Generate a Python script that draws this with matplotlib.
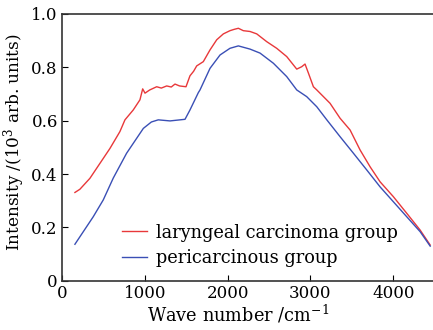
import matplotlib
matplotlib.use("Agg")
import matplotlib.pyplot as plt

red_x = [157, 217, 338, 459, 580, 700, 761, 861, 942, 975, 1003, 1060, 1144, 1200, 1265, 1320, 1365, 1420, 1498,
         1546, 1590, 1627, 1707, 1788, 1869, 1949, 2029, 2080, 2130, 2190, 2271, 2352, 2472, 2593, 2714, 2835,
         2895, 2935, 2976, 3036, 3077, 3157, 3237, 3358, 3479, 3600, 3721, 3841, 4002, 4163, 4325, 4446]
red_y = [0.331, 0.343, 0.384, 0.44, 0.496, 0.559, 0.603, 0.640, 0.678, 0.719, 0.703, 0.715, 0.727, 0.722, 0.730, 0.726, 0.737, 0.730, 0.727,
         0.768, 0.785, 0.805, 0.821, 0.865, 0.903, 0.925, 0.937, 0.942, 0.946, 0.937, 0.934, 0.925, 0.896, 0.871, 0.840, 0.793,
         0.802, 0.812, 0.778, 0.727, 0.715, 0.690, 0.665, 0.609, 0.565, 0.490, 0.427, 0.371, 0.315, 0.253, 0.190, 0.134]

blue_x = [157, 378, 499, 620, 781, 983, 1080, 1163, 1305, 1486, 1546, 1647, 1667, 1788, 1909, 2029, 2130, 2271, 2392,
          2553, 2714, 2835, 2955, 3077, 3198, 3358, 3519, 3681, 3841, 4002, 4163, 4325, 4446]
blue_y = [0.137, 0.240, 0.303, 0.385, 0.478, 0.571, 0.595, 0.603, 0.599, 0.605, 0.640, 0.705, 0.715, 0.796, 0.846, 0.871, 0.880, 0.868, 0.853,
          0.815, 0.765, 0.715, 0.690, 0.652, 0.603, 0.540, 0.478, 0.415, 0.352, 0.296, 0.240, 0.184, 0.130]

labels = ["laryngeal carcinoma group", "pericarcinous group"]
xticks = [0, 1000, 2000, 3000, 4000]
yticks = [0, 0.2, 0.4, 0.6, 0.8, 1.0]
ytick_labels = ["0", "0.2", "0.4", "0.6", "0.8", "1.0"]

plt.rcParams["font.family"] = ["DejaVu Serif"]
plt.rcParams["mathtext.fontset"] = "dejavuserif"

fig = plt.figure(figsize=(4.33, 3.30), dpi=100)
ax = fig.add_axes([0.143, 0.149, 0.857, 0.809])
ax.plot(red_x, red_y, color="#e8383a", lw=1.0, label=labels[0])
ax.plot(blue_x, blue_y, color="#3a4fb5", lw=1.0, label=labels[1])
ax.set_xlim(0, 4480)
ax.set_ylim(0, 1.0)
ax.set_xticks(xticks)
ax.set_yticks(yticks)
ax.set_yticklabels(ytick_labels)
ax.tick_params(direction="in", labelsize=12, length=4, width=0.8, pad=3)
ax.spines["right"].set_visible(False)
for s in ["left", "bottom", "top"]:
    ax.spines[s].set_linewidth(1.2)
    ax.spines[s].set_color("#333333")
ax.set_xlabel("Wave number /cm$^{-1}$", fontsize=12.8)
ax.set_ylabel("Intensity /(10$^3$ arb. units)", fontsize=12.2)
ax.xaxis.set_label_coords(0.475, -0.085)
ax.yaxis.set_label_coords(-0.093, 0.52)
leg = ax.legend(loc="lower left", bbox_to_anchor=(0.143, 0.025), frameon=False, fontsize=12.8,
                handlelength=1.4, handletextpad=0.5, labelspacing=0.42, borderaxespad=0)
fig.savefig("out.png", dpi=100)
